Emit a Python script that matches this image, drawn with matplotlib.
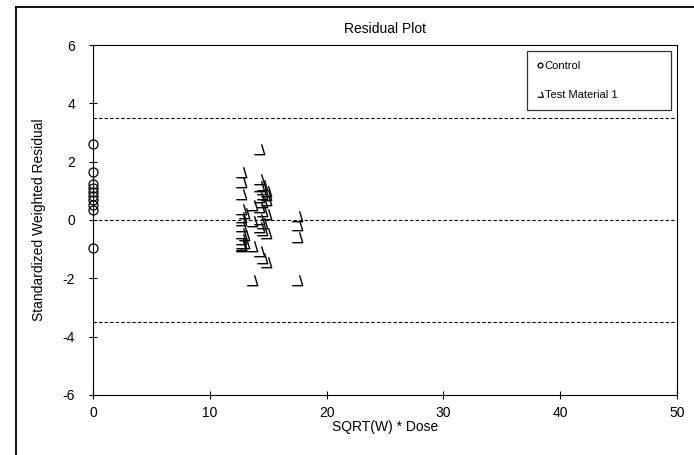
import matplotlib.pyplot as plt
from matplotlib.lines import Line2D
from matplotlib.path import Path

plt.rcParams["font.family"] = ["Liberation Sans", "DejaVu Sans"]
plt.rcParams["axes.unicode_minus"] = False

# residuals for the control group (all at dose 0)
control_x = [0.0] * 10
control_y = [2.6, 1.65, 1.25, 1.1, 0.95, 0.82, 0.68, 0.5, 0.35, -0.95]

# residuals for the test material
test_x = (
    [12.7] * 12
    + [12.9] * 3
    + [13.6] * 4
    + [14.2] * 8
    + [14.5] * 8
    + [14.8] * 6
    + [17.5] * 4
)
test_y = (
    [1.65, 1.3, 0.9, 0.38, 0.1, 0.0, -0.2, -0.45, -0.65, -0.78, -0.85, -0.9]
    + [0.25, -0.5, -0.8]
    + [0.5, -0.05, -0.9, -2.05]
    + [2.45, 1.42, 1.15, 0.8, 0.45, 0.05, -0.25, -1.05]
    + [1.2, 1.05, 0.9, 0.6, 0.3, -0.1, -0.35, -1.3]
    + [1.0, 0.85, 0.7, 0.2, -0.45, -1.45]
    + [0.15, -0.18, -0.6, -2.05]
)

ref_lines = [3.5, 0.0, -3.5]
x_ticks = [0, 10, 20, 30, 40, 50]
y_ticks = [-6, -4, -2, 0, 2, 4, 6]

# open hook-shaped marker: slanted stroke down to the right, then a bar to the left
hook = Path([(0.2, 0.5), (0.5, -0.5), (-0.5, -0.5)],
            [Path.MOVETO, Path.LINETO, Path.LINETO])

fig = plt.figure(figsize=(6.94, 4.55), dpi=100)
ax = fig.add_axes([0.134, 0.132, 0.8415, 0.769])

# outer chart frame (left and top edges)
fig.add_artist(Line2D([16 / 694, 16 / 694], [0, 1 - 7 / 455], transform=fig.transFigure,
                      color="black", lw=1.3))
fig.add_artist(Line2D([16 / 694, 1], [1 - 7 / 455, 1 - 7 / 455], transform=fig.transFigure,
                      color="black", lw=1.3))

for y in ref_lines:
    ax.axhline(y, color="black", lw=0.8, ls=(0, (3, 2)), zorder=1)

ax.plot(control_x, control_y, ls="none", marker="o", ms=6.5, mfc="none",
        mec="black", mew=0.9, zorder=3, clip_on=False)
ax.plot(test_x, test_y, ls="none", marker=hook, ms=7.5, mfc="none",
        mec="black", mew=1.0, zorder=3)

ax.set_xlim(0, 50)
ax.set_ylim(-6, 6)
ax.set_xticks(x_ticks)
ax.set_yticks(y_ticks)
ax.tick_params(direction="inout", length=6, width=0.8, labelsize=10)
ax.tick_params(axis="x", pad=5)
ax.tick_params(axis="y", pad=10)
for s in ax.spines.values():
    s.set_linewidth(0.8)

ax.set_title("Residual Plot", fontsize=10, pad=9)
ax.set_xlabel("SQRT(W) * Dose", fontsize=10, labelpad=0)
ax.set_ylabel("Standardized Weighted Residual", fontsize=10, labelpad=12)

handles = [
    Line2D([], [], ls="none", marker="o", ms=3.5, mfc="none", mec="black", mew=0.9),
    Line2D([], [], ls="none", marker=hook, ms=4, mfc="none", mec="black", mew=0.9),
]
leg = ax.legend(handles, ["Control", "Test Material 1"], loc="upper left",
                bbox_to_anchor=(0.743, 0.983, 0.247, 0.0), mode="expand",
                fontsize=8, frameon=True,
                fancybox=False, edgecolor="black", handlelength=0.6,
                handletextpad=0.1, labelspacing=1.7, borderpad=0.9,
                borderaxespad=0)
leg.get_frame().set_linewidth(0.9)

fig.savefig("out.png", dpi=100)
